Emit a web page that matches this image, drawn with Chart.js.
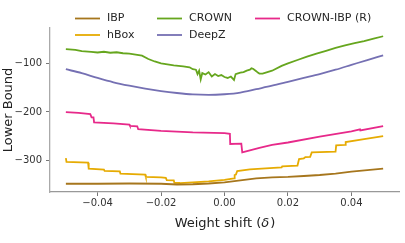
<!DOCTYPE html>
<html>
<head>
<meta charset="utf-8">
<script src="https://cdn.jsdelivr.net/npm/chart.js@4"></script>
<style>
  html, body { margin: 0; padding: 0; background: #fff; }
  #wrap { width: 405px; height: 243px; }
</style>
</head>
<body>
<div id="wrap"><canvas id="c" width="405" height="243"></canvas></div>
<script>
// values, x = weight shift, y = lower bound
const ibpX = [-0.05, -0.04, -0.03, -0.02, -0.015, -0.01, -0.005, 0, 0.005, 0.01, 0.015, 0.02, 0.025, 0.03, 0.035, 0.04, 0.045, 0.05];
const ibpY = [-348, -348, -347.5, -348, -349.5, -349, -347.5, -345, -341, -337, -335, -334, -332, -330, -327, -323, -320, -317];

const hboxX = [-0.05, -0.0498, -0.043, -0.0428, -0.038, -0.0378, -0.033, -0.0328, -0.025, -0.0248, -0.02, -0.0185, -0.0182, -0.016, -0.0158, -0.014, -0.01, -0.005, 0, 0.001, 0.003, 0.0032, 0.0036, 0.004, 0.008, 0.013, 0.018, 0.0182, 0.023, 0.0235, 0.025, 0.0255, 0.027, 0.0275, 0.035, 0.0352, 0.038, 0.0382, 0.044, 0.05];
const hboxY = [-295, -303, -304.5, -317, -319, -321.5, -322.5, -327, -329, -334, -335, -336, -340.5, -341, -346, -346.5, -345, -343, -340, -339, -337, -330, -329, -322, -318.5, -316.5, -314.5, -312, -310.5, -297, -295.5, -293, -292.5, -283.5, -282, -269, -268, -262, -256, -250];

const crownX = [-0.05, -0.047, -0.045, -0.042, -0.04, -0.038, -0.036, -0.034, -0.032, -0.03, -0.028, -0.026, -0.024, -0.022, -0.02, -0.018, -0.016, -0.013, -0.011, -0.01, -0.009, -0.0085, -0.008, -0.0075, -0.007, -0.006, -0.005, -0.004, -0.003, -0.002, -0.001, 0, 0.001, 0.002, 0.003, 0.0035, 0.004, 0.005, 0.006, 0.007, 0.008, 0.0085, 0.009, 0.01, 0.0105, 0.011, 0.012, 0.013, 0.015, 0.018, 0.02, 0.023, 0.026, 0.029, 0.032, 0.035, 0.038, 0.041, 0.044, 0.047, 0.05];
const crownY = [-70.5, -72, -74.5, -76, -77.5, -76, -78, -77, -79, -80, -82, -84, -91, -96, -100, -102, -104, -106, -108, -112, -113, -122, -115, -133, -120, -123, -118, -127, -122, -126, -124, -128, -130, -127, -134, -122, -121, -119, -118, -115, -113, -110, -111, -116, -119, -121, -121, -119, -115, -105, -100, -93, -86, -80, -74, -68, -63, -58, -54, -49, -44];

const deepzX = [-0.05, -0.045, -0.04, -0.035, -0.03, -0.025, -0.02, -0.015, -0.01, -0.005, 0, 0.005, 0.01, 0.015, 0.02, 0.025, 0.03, 0.035, 0.04, 0.045, 0.05];
const deepzY = [-112, -120, -130, -139, -146, -152, -157, -161, -164, -165, -163.5, -160, -153, -146, -138, -130, -122, -113, -103, -93, -83.5];

const cibpX = [-0.05, -0.046, -0.0423, -0.0419, -0.0413, -0.0411, -0.035, -0.03, -0.0298, -0.0275, -0.0272, -0.02, -0.01, 0, 0.0017, 0.0018, 0.0053, 0.0056, 0.008, 0.011, 0.015, 0.02, 0.03, 0.04, 0.0427, 0.0428, 0.05];
const cibpY = [-200.5, -202, -204.5, -211, -211, -221.5, -223.5, -226, -228.6, -229.5, -235.5, -239, -242, -243.5, -245, -266, -265.5, -283.5, -279, -274, -268, -263, -251, -240, -236, -238, -229];

const xTicks = [-0.04, -0.02, 0, 0.02, 0.04];
const yTicks = [-300, -200, -100];

const series = [
  { label: 'IBP',           xs: ibpX,   ys: ibpY,   color: '#a6761d' },
  { label: 'hBox',          xs: hboxX,  ys: hboxY,  color: '#e6ab02' },
  { label: 'CROWN',         xs: crownX, ys: crownY, color: '#66a61e' },
  { label: 'DeepZ',         xs: deepzX, ys: deepzY, color: '#7570b3', smooth: true },
  { label: 'CROWN-IBP (R)', xs: cibpX,  ys: cibpY,  color: '#e7298a' },
];

const FONT = '"DejaVu Sans", sans-serif';
const minus = s => String(s).replace('-', '\u2212');

// matplotlib-style legend: 3 columns, filled column by column
const colLegend = {
  id: 'colLegend',
  afterDraw(chart) {
    const ctx = chart.ctx;
    const colX = [75, 157, 255], rowY = [18.5, 35];
    ctx.save();
    ctx.font = '11px ' + FONT;
    ctx.textBaseline = 'middle';
    series.forEach((s, i) => {
      const x = colX[Math.floor(i / 2)], y = rowY[i % 2];
      ctx.strokeStyle = s.color;
      ctx.lineWidth = 1.8;
      ctx.beginPath(); ctx.moveTo(x, y); ctx.lineTo(x + 25, y); ctx.stroke();
      ctx.fillStyle = '#262626';
      ctx.fillText(s.label, x + 32, y);
    });
    ctx.restore();
  }
};

// x title with an italic delta, like matplotlib mathtext
const xTitle = {
  id: 'xTitle',
  afterDraw(chart) {
    const ctx = chart.ctx, a = chart.chartArea;
    const parts = [['Weight shift (', ''], ['\u03b4', 'italic '], [')', '']];
    ctx.save();
    ctx.textBaseline = 'middle';
    ctx.fillStyle = '#222';
    let w = 0;
    parts.forEach(p => { ctx.font = p[1] + '13px ' + FONT; w += ctx.measureText(p[0]).width; });
    let x = (a.left + a.right) / 2 - w / 2;
    parts.forEach(p => {
      ctx.font = p[1] + '13px ' + FONT;
      ctx.fillText(p[0], x, 224);
      x += ctx.measureText(p[0]).width + (p[1] ? 1 : 0);
    });
    ctx.restore();
  }
};

new Chart(document.getElementById('c'), {
  type: 'line',
  data: {
    datasets: series.map(s => ({
      label: s.label,
      data: s.xs.map((x, i) => ({ x, y: s.ys[i] })),
      borderColor: s.color,
      backgroundColor: s.color,
      borderWidth: 1.8,
      pointRadius: 0,
      fill: false,
      cubicInterpolationMode: s.smooth ? 'monotone' : 'default',
      tension: 0,
    }))
  },
  options: {
    responsive: false, animation: false, devicePixelRatio: 1,
    layout: { padding: { top: 28, right: 6, left: 0, bottom: 0 } },
    plugins: { legend: { display: false }, tooltip: { enabled: false } },
    scales: {
      x: {
        type: 'linear', min: -0.055, max: 0.055,
        afterBuildTicks: s => { s.ticks = xTicks.map(v => ({ value: v })); },
        afterFit: s => { s.height = 51; },
        ticks: { callback: v => minus(v.toFixed(2)), font: { family: FONT, size: 10 }, color: '#333', padding: 1, maxRotation: 0 },
        grid: { drawOnChartArea: false, drawTicks: true, tickLength: 4, color: '#777' },
        border: { color: '#999', width: 1.3 },
        title: { display: false },
      },
      y: {
        min: -365, max: -27,
        afterBuildTicks: s => { s.ticks = yTicks.map(v => ({ value: v })); },
        afterFit: s => { s.width = 50; },
        ticks: { callback: v => minus(v), font: { family: FONT, size: 10 }, color: '#333', padding: 4 },
        grid: { drawOnChartArea: false, drawTicks: true, tickLength: 4, color: '#777' },
        border: { color: '#aaa', width: 1.3 },
        title: { display: true, text: 'Lower Bound', font: { family: FONT, size: 13 }, color: '#222', padding: { top: 1, bottom: 0 } },
      }
    }
  },
  plugins: [colLegend, xTitle],
});
</script>
</body>
</html>
